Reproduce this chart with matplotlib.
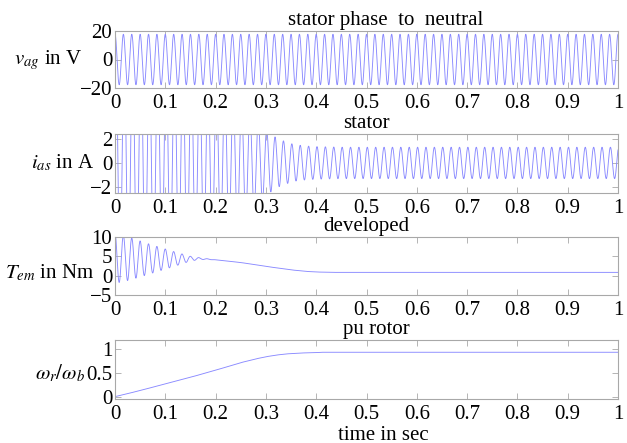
import numpy as np
import matplotlib
matplotlib.use("Agg")
import matplotlib.pyplot as plt

plt.rcParams['font.family'] = ['Liberation Serif', 'DejaVu Serif']
plt.rcParams['mathtext.fontset'] = 'stix'

# ---------------- data ----------------
f_supply = 60.0                 # Hz, cycles counted in the traces
t_end = 1.0
v_amp = 17.7                    # V, stator phase-to-neutral peak

# stator current envelope (peak A) vs time
i_env_t = [0.00, 0.05, 0.10, 0.15, 0.20, 0.24, 0.27, 0.29, 0.30, 0.31, 0.32, 0.33, 0.34, 0.35, 0.36, 0.38, 0.40, 0.45, 1.00]
i_env_a = [10.0, 9.6, 9.0, 8.2, 7.0, 5.6, 4.3, 3.3, 2.8, 2.4, 2.1, 1.9, 1.75, 1.6, 1.5, 1.4, 1.35, 1.3, 1.3]

# developed torque: mean and oscillation envelope (Nm) vs time
te_t    = [0.00, 0.03, 0.06, 0.09, 0.12, 0.15, 0.17, 0.20, 0.25, 0.30, 0.35, 0.38, 0.40, 0.43, 0.50, 1.00]
te_mean = [4.5, 4.4, 4.3, 4.3, 4.3, 4.4, 4.4, 4.1, 3.4, 2.4, 1.5, 1.1, 0.95, 0.85, 0.85, 0.85]
te_osc  = [6.5, 5.5, 4.2, 3.0, 1.8, 0.6, 0.2, 0.0, 0.0, 0.0, 0.0, 0.0, 0.0, 0.0, 0.0, 0.0]

# per-unit rotor speed vs time
wr_t = [0.00, 0.02, 0.05, 0.10, 0.15, 0.20, 0.25, 0.28, 0.30, 0.32, 0.34, 0.37, 0.40, 0.41, 0.50, 1.00]
wr_v = [0.00, 0.05, 0.13, 0.27, 0.41, 0.56, 0.72, 0.80, 0.845, 0.88, 0.905, 0.925, 0.932, 0.94, 0.94, 0.94]

titles = ["stator phase  to  neutral", "stator", "developed", "pu rotor"]
ylabels = [r"$v_{ag}$ in V", r"$i_{as}$ in A", r"$T_{em}$ in Nm", r"$\omega_r/\omega_b$"]
xticks = [0, 0.1, 0.2, 0.3, 0.4, 0.5, 0.6, 0.7, 0.8, 0.9, 1]
xticklabels = ["0", "0.1", "0.2", "0.3", "0.4", "0.5", "0.6", "0.7", "0.8", "0.9", "1"]
yticks = [[-20, 0, 20], [-2, 0, 2], [-5, 0, 5, 10], [0, 0.5, 1]]
yticklabels = [["\u221220", "0", "20"], ["\u22122", "0", "2"], ["\u22125", "0", "5", "10"], ["0", "0.5", "1"]]
ylims = [(-20, 20), (-2.5, 2.4), (-5, 10), (-0.05, 1.2)]
xlabel = "time in sec"

# ---------------- signals ----------------
t = np.linspace(0, t_end, 8001)
w = 2 * np.pi * f_supply
v_ag = v_amp * np.cos(w * t)
i_as = np.interp(t, i_env_t, i_env_a) * np.cos(w * t - 0.6)
t_em = np.interp(t, te_t, te_mean) + np.interp(t, te_t, te_osc) * np.cos(w * t)
w_r = np.interp(t, wr_t, wr_v)
signals = [v_ag, i_as, t_em, w_r]

# ---------------- figure ----------------
W, H = 627, 443
fig = plt.figure(figsize=(W / 100, H / 100), dpi=100)
left, right = 115, 618
boxes = [(31, 88), (134, 193), (237, 295), (340, 399)]
title_x = [386, 366, 366, 376]
ylabel_xy = [(82, 60), (94, 163), (94, 273), (85, 373)]
frame_col = '#a8a8a8'
line_col = '#8a8aff'
fs = 15

for k, (top, bot) in enumerate(boxes):
    ax = fig.add_axes([left / W, 1 - bot / H, (right - left) / W, (bot - top) / H])
    ax.plot(t, signals[k], color=line_col, lw=0.65)
    ax.set_xlim(0, 1)
    ax.set_ylim(*ylims[k])
    ax.set_xticks(xticks)
    ax.set_xticklabels(xticklabels)
    ax.set_yticks(yticks[k])
    ax.set_yticklabels(yticklabels[k])
    ax.tick_params(direction='in', length=4, width=0.6, color=frame_col,
                   top=True, right=True, labelsize=fs, pad=2)
    ax.tick_params(axis='x', pad=4)
    for s in ax.spines.values():
        s.set_color(frame_col)
        s.set_linewidth(0.8)
    ax.text((title_x[k] - left) / (right - left), 1.02, titles[k], transform=ax.transAxes,
            ha='center', va='bottom', fontsize=fs)
    lx, ly = ylabel_xy[k]
    fig.text(lx / W, 1 - ly / H, ylabels[k], ha='right', va='center', fontsize=fs)

fig.text(383 / W, 1 - 435 / H, xlabel, ha='center', va='center', fontsize=fs)
fig.savefig("out.png", dpi=100)
